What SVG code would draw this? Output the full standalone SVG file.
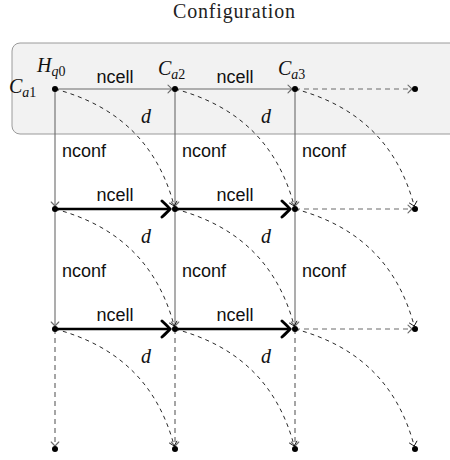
<svg xmlns="http://www.w3.org/2000/svg" width="450" height="460" viewBox="0 0 450 460">
<style>
.title{font-family:"Liberation Serif",serif;font-size:20px;fill:#222}
.sans{font-family:"Liberation Sans",Arial,sans-serif;font-size:18px;fill:#111}
.math{font-family:"Liberation Serif",serif;font-size:20px;font-style:italic;fill:#111}
.sub{font-size:14px}
.up{font-style:normal}
.g{stroke:#6a6a6a;stroke-width:1.1;fill:none}
.gd{stroke:#6a6a6a;stroke-width:1.2;fill:none;stroke-dasharray:5 4}
.thick{stroke:#000;stroke-width:2.7;fill:none}
.cv{stroke:#111;stroke-width:0.9;fill:none;stroke-dasharray:4 4}
.dot{fill:#000}
</style>
<defs>
<marker id="tg" markerUnits="userSpaceOnUse" viewBox="-6 -5 8 10" markerWidth="8" markerHeight="10" refX="0" refY="0" orient="auto">
<path d="M-4,-3.8 Q-0.8,-0.8 0,0 Q-0.8,0.8 -4,3.8" fill="none" stroke="#6a6a6a" stroke-width="1.1" stroke-linecap="round"/>
</marker>
<marker id="tk" markerUnits="userSpaceOnUse" viewBox="-6 -5 8 10" markerWidth="8" markerHeight="10" refX="0" refY="0" orient="auto">
<path d="M-4,-3.8 Q-0.8,-0.8 0,0 Q-0.8,0.8 -4,3.8" fill="none" stroke="#111" stroke-width="0.9" stroke-linecap="round"/>
</marker>
<marker id="tt" markerUnits="userSpaceOnUse" viewBox="-11 -10 13 20" markerWidth="13" markerHeight="20" refX="0" refY="0" orient="auto">
<path d="M-8,-8 Q-2,-2.5 0,0 Q-2,2.5 -8,8" fill="none" stroke="#000" stroke-width="2.9" stroke-linecap="round"/>
</marker>
</defs>

<text class="title" x="234" y="18" text-anchor="middle" textLength="122">Configuration</text>

<rect x="12" y="43" width="470" height="91" rx="8" ry="8" fill="#f2f2f2" stroke="#9a9a9a" stroke-width="1"/>

<g id="connectors">
<line class="g" x1="55" y1="89" x2="172" y2="89" marker-end="url(#tg)"/>
<line class="g" x1="175" y1="89" x2="292" y2="89" marker-end="url(#tg)"/>
<line class="gd" x1="295" y1="89" x2="412" y2="89" marker-end="url(#tg)"/>
<line class="thick" x1="55" y1="209" x2="170" y2="209" marker-end="url(#tt)"/>
<line class="thick" x1="175" y1="209" x2="290" y2="209" marker-end="url(#tt)"/>
<line class="gd" x1="295" y1="209" x2="412" y2="209" marker-end="url(#tg)"/>
<line class="thick" x1="55" y1="329" x2="170" y2="329" marker-end="url(#tt)"/>
<line class="thick" x1="175" y1="329" x2="290" y2="329" marker-end="url(#tt)"/>
<line class="gd" x1="295" y1="329" x2="412" y2="329" marker-end="url(#tg)"/>
<line class="g" x1="55" y1="89" x2="55" y2="206" marker-end="url(#tg)"/>
<line class="g" x1="175" y1="89" x2="175" y2="206" marker-end="url(#tg)"/>
<line class="g" x1="295" y1="89" x2="295" y2="206" marker-end="url(#tg)"/>
<line class="g" x1="55" y1="209" x2="55" y2="326" marker-end="url(#tg)"/>
<line class="g" x1="175" y1="209" x2="175" y2="326" marker-end="url(#tg)"/>
<line class="g" x1="295" y1="209" x2="295" y2="326" marker-end="url(#tg)"/>
<line class="gd" x1="55" y1="329" x2="55" y2="446" marker-end="url(#tg)"/>
<line class="gd" x1="175" y1="329" x2="175" y2="446" marker-end="url(#tg)"/>
<line class="gd" x1="295" y1="329" x2="295" y2="446" marker-end="url(#tg)"/>
<path class="cv" d="M55,89 C119,106 158,145 174.2,206" marker-end="url(#tk)"/>
<path class="cv" d="M175,89 C239,106 278,145 294.2,206" marker-end="url(#tk)"/>
<path class="cv" d="M295,89 C359,106 398,145 414.2,206" marker-end="url(#tk)"/>
<path class="cv" d="M55,209 C119,226 158,265 174.2,326" marker-end="url(#tk)"/>
<path class="cv" d="M175,209 C239,226 278,265 294.2,326" marker-end="url(#tk)"/>
<path class="cv" d="M295,209 C359,226 398,265 414.2,326" marker-end="url(#tk)"/>
<path class="cv" d="M55,329 C119,346 158,385 174.2,446" marker-end="url(#tk)"/>
<path class="cv" d="M175,329 C239,346 278,385 294.2,446" marker-end="url(#tk)"/>
<path class="cv" d="M295,329 C359,346 398,385 414.2,446" marker-end="url(#tk)"/>
<text class="sans" x="115" y="83" text-anchor="middle">ncell</text>
<text class="sans" x="235" y="83" text-anchor="middle">ncell</text>
<text class="sans" x="115" y="201" text-anchor="middle">ncell</text>
<text class="sans" x="235" y="201" text-anchor="middle">ncell</text>
<text class="sans" x="115" y="321" text-anchor="middle">ncell</text>
<text class="sans" x="235" y="321" text-anchor="middle">ncell</text>
<text class="sans" x="62" y="157">nconf</text>
<text class="sans" x="182" y="157">nconf</text>
<text class="sans" x="302" y="157">nconf</text>
<text class="sans" x="62" y="277">nconf</text>
<text class="sans" x="182" y="277">nconf</text>
<text class="sans" x="302" y="277">nconf</text>
<text class="math" x="141" y="123">d</text>
<text class="math" x="261" y="123">d</text>
<text class="math" x="141" y="243">d</text>
<text class="math" x="261" y="243">d</text>
<text class="math" x="141" y="363">d</text>
<text class="math" x="261" y="363">d</text>
</g>

<g id="n11"><circle class="dot" cx="55" cy="89" r="3"/>
<text class="math" x="9" y="93">C<tspan class="sub" dy="4">a</tspan><tspan class="sub up">1</tspan></text>
<text class="math" x="37" y="72">H<tspan class="sub" dy="4">q</tspan><tspan class="sub up">0</tspan></text></g>
<g id="n12"><circle class="dot" cx="175" cy="89" r="3"/>
<text class="math" x="158" y="75">C<tspan class="sub" dy="4">a</tspan><tspan class="sub up">2</tspan></text></g>
<g id="n13"><circle class="dot" cx="295" cy="89" r="3"/>
<text class="math" x="278" y="75">C<tspan class="sub" dy="4">a</tspan><tspan class="sub up">3</tspan></text></g>
<g id="n14"><circle class="dot" cx="415" cy="89" r="3"/></g>
<g id="n21"><circle class="dot" cx="55" cy="209" r="3"/></g>
<g id="n22"><circle class="dot" cx="175" cy="209" r="3"/></g>
<g id="n23"><circle class="dot" cx="295" cy="209" r="3"/></g>
<g id="n24"><circle class="dot" cx="415" cy="209" r="3"/></g>
<g id="n31"><circle class="dot" cx="55" cy="329" r="3"/></g>
<g id="n32"><circle class="dot" cx="175" cy="329" r="3"/></g>
<g id="n33"><circle class="dot" cx="295" cy="329" r="3"/></g>
<g id="n34"><circle class="dot" cx="415" cy="329" r="3"/></g>
<g id="n41"><circle class="dot" cx="55" cy="449" r="3"/></g>
<g id="n42"><circle class="dot" cx="175" cy="449" r="3"/></g>
<g id="n43"><circle class="dot" cx="295" cy="449" r="3"/></g>
<g id="n44"><circle class="dot" cx="415" cy="449" r="3"/></g>
</svg>
